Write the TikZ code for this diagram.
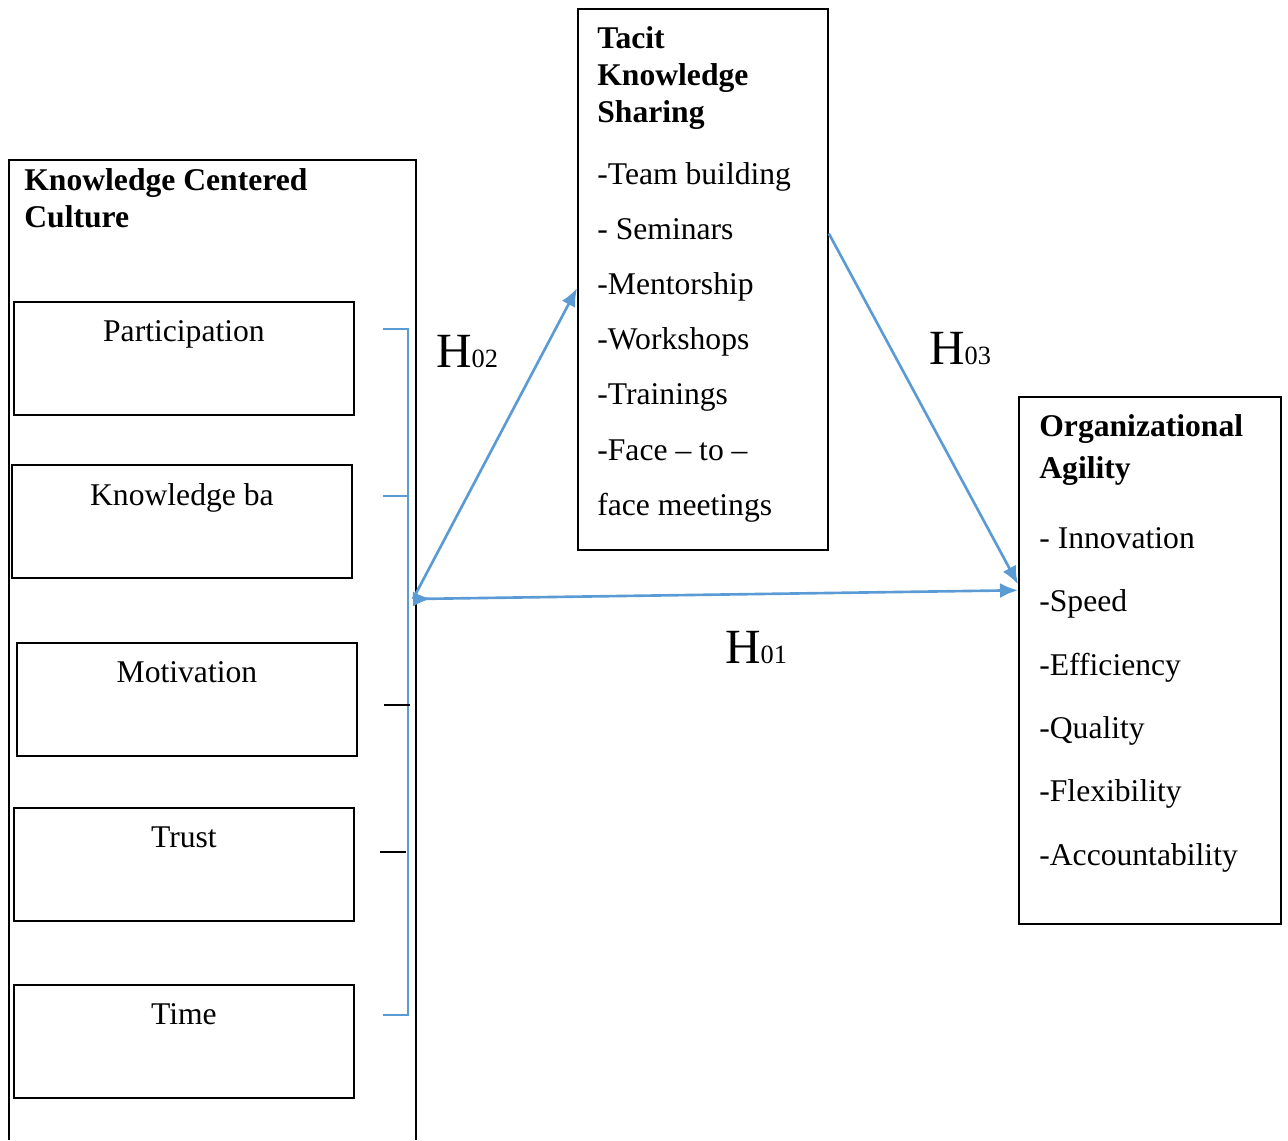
\documentclass[tikz,border=0pt]{standalone}
\usepackage{fontspec}
\setmainfont{Liberation Serif}
\usetikzlibrary{positioning,arrows.meta}
\definecolor{hypblue}{RGB}{91,155,213}
\tikzset{
  box/.style={draw,line width=1.1pt,anchor=north west,inner sep=0pt},
  txt/.style={font=\fontsize{18}{21}\selectfont,inner sep=0pt},
  head/.style={font=\fontsize{18}{21}\selectfont\bfseries,align=left,anchor=north west,inner sep=0pt},
  itemlist/.style={font=\fontsize{18}{#1}\selectfont,align=left,anchor=north west,inner sep=0pt},
  hyp/.style={font=\fontsize{28}{32}\selectfont,inner sep=0pt},
  link/.style={draw=hypblue,line width=1.5pt},
  flow/.style={link,-{Latex[length=0.36cm,width=0.3cm]}},
}
\newcommand{\hsub}[1]{H{\fontsize{15}{18}\selectfont #1}}
\begin{document}
\begin{tikzpicture}[x=0.02cm,y=-0.02cm]
\useasboundingbox (0,0) rectangle (1288,1140);
% knowledge centered culture
\draw[line width=1.1pt](9,1140)--(9,160)--(416,160)--(416,1140);
\node[head] (kcc) at (24,168) {Knowledge Centered\\Culture};
\foreach \nm/\lbl/\kx/\ky in {part/Participation/13/301,kba/Knowledge ba/11/464,motiv/Motivation/16/642,trust/Trust/13/807,time/Time/13/984}{
  \node[box,minimum width=6.8cm,minimum height=2.26cm] (\nm) at (\kx,\ky) {};
  \node[txt,below=0.39cm of \nm.north] (\nm-lbl) {\lbl};
}
% bracket
\draw[link](383,329)-|(408,1015)--(383,1015);
\draw[link](383,496)--(408,496);
\draw[line width=1.1pt](384,705)--(410,705);
\draw[line width=1.1pt](380,852)--(406,852);
% tacit knowledge sharing
\node[box,minimum width=5cm,minimum height=10.82cm] (tacit) at (577,8) {};
\node[head,below right=0.36cm and 0.4cm of tacit.north west] (tacit-head) {Tacit\\Knowledge\\Sharing};
\node[itemlist=31.4,below right=3.08cm and 0.4cm of tacit.north west] (tacit-list) {-Team building\\- Seminars\\-Mentorship\\-Workshops\\-Trainings\\-Face -- to --\\face meetings};
% organizational agility
\node[box,minimum width=5.24cm,minimum height=10.54cm] (agil) at (1018,396) {};
\node[itemlist=23.8,font=\fontsize{18}{23.8}\selectfont\bfseries,below right=0.36cm and 0.42cm of agil.north west] (agil-head) {Organizational\\Agility};
\node[itemlist=36.1,below right=2.62cm and 0.42cm of agil.north west] (agil-list) {- Innovation\\-Speed\\-Efficiency\\-Quality\\-Flexibility\\-Accountability};
% hypotheses
\coordinate (hub) at (413,599);
\draw[flow](hub)--(tacit.184);
\draw[flow](tacit.20)--(agil.150);
\draw[link,{Latex[reversed,length=0.36cm,width=0.3cm]}-{Latex[length=0.36cm,width=0.3cm]}](hub)--(agil.152);
\node[hyp] (h02) at (467,352) {\hsub{02}};
\node[hyp] (h03) at (960,349) {\hsub{03}};
\node[hyp] (h01) at (756,648) {\hsub{01}};
\end{tikzpicture}
\end{document}
